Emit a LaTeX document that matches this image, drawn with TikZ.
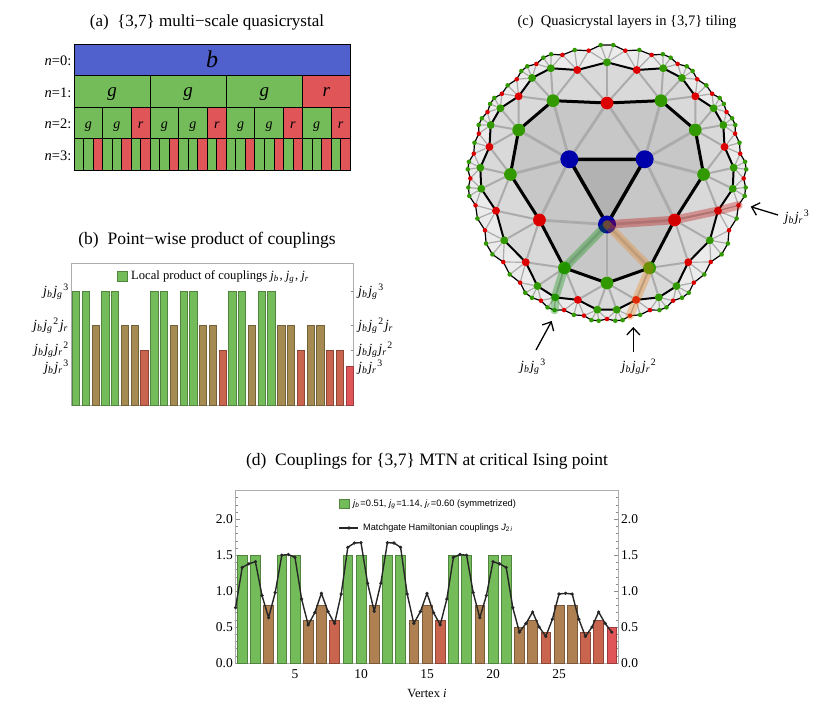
\documentclass[tikz,border=0pt]{standalone}
\usepackage{fontspec}
\setmainfont{Liberation Serif}
\setsansfont{Liberation Sans}
\usetikzlibrary{arrows.meta,backgrounds}
\definecolor{cellblue}{HTML}{5060CC}
\definecolor{cellgreen}{HTML}{74BC5A}
\definecolor{cellred}{HTML}{E05558}
\definecolor{barbrown}{HTML}{A58B52}
\definecolor{barorange}{HTML}{AE8052}
\definecolor{barred}{HTML}{C9654F}
\definecolor{dotgreen}{HTML}{339900}
\definecolor{dotred}{HTML}{DD0000}
\definecolor{dotblue}{HTML}{0000AA}
\tikzset{
  title/.style={font=\fontsize{17.5}{19}\selectfont},
  ticklabel/.style={font=\fontsize{13.5}{15}\selectfont},
  couplabel/.style={font=\fontsize{14}{16}\selectfont},
  rowlabel/.style={font=\fontsize{14.5}{16}\selectfont,anchor=east,inner sep=0pt},
  cell/.style={draw=black,line width=.7pt},
  bar/.style={line width=.7pt,draw=#1!70!black,fill=#1},
  dot/.style={circle,inner sep=0pt},
  band/.style={line width=8.5pt,line cap=round,line join=round,draw=#1,opacity=.33},
  pointer/.style={line width=1.3pt,-{Straight Barb[length=7pt,width=13pt,line width=1.3pt]}},
  axisframe/.style={draw=black!32,line width=1pt},
  axistick/.style={draw=black!45,line width=.5pt}
}
\newcommand{\jsub}[1]{\textit{j}\textsubscript{\textit{#1}}\kern.8pt}
% one ring of the tiling: prefix, period, mirror sum, size, data
\newcommand{\ringnodes}[5]{%
  \foreach \sect in {0,1,2}{%
    \foreach \ang/\rad/\col [count=\k from 0] in {#5}{%
      \pgfmathtruncatemacro{\idx}{\k+#2*\sect}
      \pgfmathtruncatemacro{\jdx}{mod(#3-\k+#2*\sect,3*#2)}
      \pgfmathtruncatemacro{\onaxis}{or(\ang==90,\ang==30)}
      \node[dot,minimum size=#4,fill=\col] (#1\idx) at ({\ang-120*\sect}:\rad) {};
      \ifnum\onaxis=0
        \node[dot,minimum size=#4,fill=\col] (#1\jdx) at ({60-\ang-120*\sect}:\rad) {};
      \fi
    }
  }
}
\begin{document}
\begin{tikzpicture}[x=1pt,y=-1pt]
\useasboundingbox (0,0) rectangle (830,709);

% (a)
\node[title,font=\fontsize{17}{19}\selectfont] (titlea) at (207,22) {(a)~~\{3,7\} multi−scale quasicrystal};
\draw[cell,fill=cellblue] (74,44) rectangle (350,75.7);
\node[font=\fontsize{24}{26}\selectfont\itshape,anchor=base] (cellb) at (212,67) {b};
\foreach \from/\to/\col/\lab in {0/8/cellgreen/g,8/16/cellgreen/g,16/24/cellgreen/g,24/29/cellred/r}{
  \draw[cell,fill=\col] ({74+9.517*\from},75.7) rectangle ({74+9.517*\to},107);
  \node[font=\fontsize{19}{21}\selectfont\itshape,anchor=base] at ({74+9.517*(\from+\to)/2},96.5) {\lab};
}
\foreach \from/\to/\col/\lab in {0/3/cellgreen/g,3/6/cellgreen/g,6/8/cellred/r,8/11/cellgreen/g,11/14/cellgreen/g,14/16/cellred/r,16/19/cellgreen/g,19/22/cellgreen/g,22/24/cellred/r,24/27/cellgreen/g,27/29/cellred/r}{
  \draw[cell,fill=\col] ({74+9.517*\from},107) rectangle ({74+9.517*\to},138.3);
  \node[font=\fontsize{14}{16}\selectfont\itshape,anchor=base] at ({74+9.517*(\from+\to)/2},128) {\lab};
}
\foreach \col [count=\i from 0] in {cellgreen,cellgreen,cellred,cellgreen,cellgreen,cellred,cellgreen,cellred,cellgreen,cellgreen,cellred,cellgreen,cellgreen,cellred,cellgreen,cellred,cellgreen,cellgreen,cellred,cellgreen,cellgreen,cellred,cellgreen,cellred,cellgreen,cellgreen,cellred,cellgreen,cellred}{
  \draw[cell,fill=\col] ({74+9.517*\i},138.3) rectangle ({74+9.517*(\i+1)},170);
}
\foreach \n/\ypos in {0/61,1/92.5,2/124,3/155.5}{
  \node[rowlabel] (rowlabel\n) at (71.5,\ypos) {\textit{n}=\n:};
}

% (b)
\node[title] (titleb) at (207,240) {(b)~~Point−wise product of couplings};
\draw[axisframe] (71.7,263) rectangle (353,405);
\foreach \ypos in {291.7,325.7,350,366.7}{
  \draw[axistick] (71.7,\ypos) -- (74,\ypos);
  \draw[axistick] (350.7,\ypos) -- (353,\ypos);
}
\foreach \col/\ytop [count=\i from 0] in {
  cellgreen/291.7,cellgreen/291.7,barbrown/325.7,cellgreen/291.7,cellgreen/291.7,barbrown/325.7,barbrown/325.7,barred/350,
  cellgreen/291.7,cellgreen/291.7,barbrown/325.7,cellgreen/291.7,cellgreen/291.7,barbrown/325.7,barbrown/325.7,barred/350,
  cellgreen/291.7,cellgreen/291.7,barbrown/325.7,cellgreen/291.7,cellgreen/291.7,barbrown/325.7,barbrown/325.7,barred/350,
  barbrown/325.7,barbrown/325.7,barred/350,barred/350,cellred/366.7}{
  \draw[bar=\col] ({72.4+9.77*\i},\ytop) rectangle ({72.4+9.77*\i+7.3},405);
}
\draw[bar=cellgreen] (117.3,271.8) rectangle (127,281.5);
\node[font=\fontsize{12.6}{14}\selectfont,anchor=west,inner sep=0pt] (legendb) at (131,277) {Local product of couplings \jsub{b}, \jsub{g}, \jsub{r}};
\foreach \ypos/\lab in {292/\jsub{b}\jsub{g}\textsuperscript{3},326/\jsub{b}\jsub{g}\textsuperscript{2}\kern1pt\jsub{r},350/\jsub{b}\jsub{g}\jsub{r}\textsuperscript{2},367/\jsub{b}\jsub{r}\textsuperscript{3}}{
  \node[couplabel,anchor=east,inner sep=0pt] at (69,\ypos) {\lab};
  \node[couplabel,anchor=west,inner sep=0pt] at (358,\ypos) {\lab};
}

% (c)
\node[title,font=\fontsize{14.5}{16}\selectfont] (titlec) at (627,22) {(c)~~Quasicrystal layers in \{3,7\} tiling};
\begin{scope}[shift={(607,181)},x=1pt,y=1pt]
\ringnodes{o}{29}{28}{4.6pt}{87.35/136.1/dotgreen,82/131.6/dotred,76.15/134.9/dotgreen,70.5/133.7/dotred,66.2/138.5/dotgreen,62.7/138.8/dotgreen,58.9/136.7/dotred,55.2/139.7/dotgreen,52.1/139.4/dotgreen,48.4/136/dotred,43.9/137.9/dotgreen,39.7/136.6/dotred,36.4/140/dotgreen,33.4/140/dotgreen,30/138/dotred}
\ringnodes{l}{11}{11}{8pt}{90/118.7/dotgreen,75/114.9/dotred,63.5/126/dotgreen,54/127.4/dotgreen,43.8/122.4/dotred,34.3/129.1/dotgreen}
\ringnodes{m}{4}{4}{12.8pt}{90/78/dotred,56.1/96.8/dotgreen,30/102/dotgreen}
\ringnodes{b}{1}{0}{18pt}{30/43.5/dotblue}
\end{scope}
\begin{pgfonlayer}{background}
  \foreach \p/\N/\shade in {o/86/black!8,l/32/black!15,m/11/black!22,b/2/black!30}{
    \fill[fill=\shade] (\p0.center) \foreach \k in {1,...,\N}{ -- (\p\k.center)} -- cycle;
  }
  \foreach \s in {0,1,2}{
    \foreach \t in {0,...,4}{
      \pgfmathtruncatemacro{\tgt}{mod(4*\s+\t,12)}
      \draw[black!33,line width=2.8pt] (b\s) -- (m\tgt);
    }
    \foreach \j/\from/\to in {0/-1/1,1/1/4,2/4/7,3/7/10}{
      \pgfmathtruncatemacro{\src}{4*\s+\j}
      \foreach \t in {\from,...,\to}{
        \pgfmathtruncatemacro{\tgt}{mod(11*\s+\t+33,33)}
        \draw[black!33,line width=2pt] (m\src) -- (l\tgt);
      }
    }
    \foreach \j/\from/\to in {0/-2/1,1/1/3,2/3/6,3/6/9,4/9/11,5/11/14,6/14/17,7/17/19,8/19/22,9/22/25,10/25/27}{
      \pgfmathtruncatemacro{\src}{11*\s+\j}
      \foreach \t in {\from,...,\to}{
        \pgfmathtruncatemacro{\tgt}{mod(29*\s+\t+87,87)}
        \draw[black!33,line width=1.2pt] (l\src) -- (o\tgt);
      }
    }
  }
  \foreach \p/\N/\wd in {o/86/1.2pt,l/32/2pt,m/11/3pt,b/2/3.5pt}{
    \draw[line width=\wd,line join=round] (\p0.center) \foreach \k in {1,...,\N}{ -- (\p\k.center)} -- cycle;
  }
\end{pgfonlayer}
\draw[band=red!75!black] (b1.center) -- (m4.center) -- (l10.center) -- (o25.center);
\draw[band=green!55!black] (b1.center) -- (m7.center) -- (l19.center) -- (o49.center);
\draw[band=orange!70!brown] (b1.center) -- (m5.center) -- (l15.center) -- (o40.center);
\coordinate (tailg) at (536,350);
\coordinate (headg) at (551.7,321);
\coordinate (tailo) at (633.3,352);
\coordinate (heado) at (633.3,327);
\coordinate (tailr) at (778,215);
\coordinate (headr) at (750.7,206.7);
\draw[pointer] (tailg) -- (headg);
\draw[pointer] (tailo) -- (heado);
\draw[pointer] (tailr) -- (headr);
\node[couplabel] (labelg) at (533,367) {\jsub{b}\jsub{g}\textsuperscript{3}};
\node[couplabel] (labelo) at (639,367) {\jsub{b}\jsub{g}\jsub{r}\textsuperscript{2}};
\node[couplabel] (labelr) at (797,217) {\jsub{b}\jsub{r}\textsuperscript{3}};

% (d)
\node[title] (titled) at (427,461) {(d)~~Couplings for \{3,7\} MTN at critical Ising point};
\draw[axisframe] (235.6,490.7) rectangle (618.4,663);
\foreach \i in {1,...,23}{
  \pgfmathsetmacro{\ypos}{663-7.185*\i}
  \draw[axistick] (235.6,\ypos) -- (237.6,\ypos);
  \draw[axistick] (618.4,\ypos) -- (616.4,\ypos);
}
\foreach \val in {0.0,0.5,1.0,1.5,2.0}{
  \pgfmathsetmacro{\ypos}{663-71.85*\val}
  \draw[axistick] (235.6,\ypos) -- (239.6,\ypos);
  \draw[axistick] (618.4,\ypos) -- (614.4,\ypos);
  \node[ticklabel,anchor=east,inner sep=0pt] at (233,\ypos) {\val};
  \node[ticklabel,anchor=west,inner sep=0pt] at (621,\ypos) {\val};
}
\foreach \col/\val [count=\i from 1] in {
  cellgreen/1.5,cellgreen/1.5,barorange/.8,cellgreen/1.5,cellgreen/1.5,barorange/.6,barorange/.8,barred/.6,
  cellgreen/1.5,cellgreen/1.5,barorange/.8,cellgreen/1.5,cellgreen/1.5,barorange/.6,barorange/.8,barred/.6,
  cellgreen/1.5,cellgreen/1.5,barorange/.8,cellgreen/1.5,cellgreen/1.5,barorange/.5,barorange/.6,barred/.42,
  barorange/.8,barorange/.8,barred/.42,barred/.6,cellred/.5}{
  \draw[bar=\col] ({235.6+13.2*(\i-.5)-4.9},{663-71.85*\val}) rectangle ({235.6+13.2*(\i-.5)+4.9},663);
}
\foreach \i in {5,10,15,20,25}{
  \node[ticklabel,inner sep=0pt] at ({235.6+13.2*(\i-.5)},674) {\i};
}
\node[font=\fontsize{12.5}{14}\selectfont] (xlabeld) at (427,693) {Vertex \textit{i}};
\draw[line width=1.4pt,black!85,line join=round] (235.6,{663-71.85*.77})
  \foreach \val [count=\i from 1] in {1.33,1.38,1.41,.94,.63,.98,1.50,1.51,1.47,.89,.53,.70,.97,.715,.55,.96,1.61,1.67,1.675,1.11,.72,1.11,1.675,1.67,1.61,.96,.55,.715,.97,.70,.53,.89,1.47,1.51,1.50,.98,.63,.94,1.41,1.38,1.33,.77,.43,.55,.71,.50,.37,.61,.96,.97,.96,.61,.37,.50,.71,.55,.43}{
    -- ({235.6+6.6*\i},{663-71.85*\val})
  };
\foreach \val [count=\i from 0] in {.77,1.33,1.38,1.41,.94,.63,.98,1.50,1.51,1.47,.89,.53,.70,.97,.715,.55,.96,1.61,1.67,1.675,1.11,.72,1.11,1.675,1.67,1.61,.96,.55,.715,.97,.70,.53,.89,1.47,1.51,1.50,.98,.63,.94,1.41,1.38,1.33,.77,.43,.55,.71,.50,.37,.61,.96,.97,.96,.61,.37,.50,.71,.55,.43}{
  \fill[black!85] ({235.6+6.6*\i},{663-71.85*\val}) circle (1.8pt);
}
\draw[bar=cellgreen] (339.3,499) rectangle (349,508.5);
\node[font=\sffamily\fontsize{9.3}{11}\selectfont,anchor=west,inner sep=0pt] (legendd) at (353,504) {\jsub{b}=0.51, \jsub{g}=1.14, \jsub{r}=0.60 (symmetrized)};
\coordinate (lineleft) at (339.3,528);
\coordinate (lineright) at (358,528);
\draw[line width=1.4pt,black!85] (lineleft) -- (lineright);
\fill[black!85] (349,528) circle (1.8pt);
\node[font=\sffamily\fontsize{9.2}{11}\selectfont,anchor=west,inner sep=0pt] (legendline) at (363,528) {Matchgate Hamiltonian couplings \textit{J}\textsubscript{2\,\textit{i}}};
\end{tikzpicture}
\end{document}
